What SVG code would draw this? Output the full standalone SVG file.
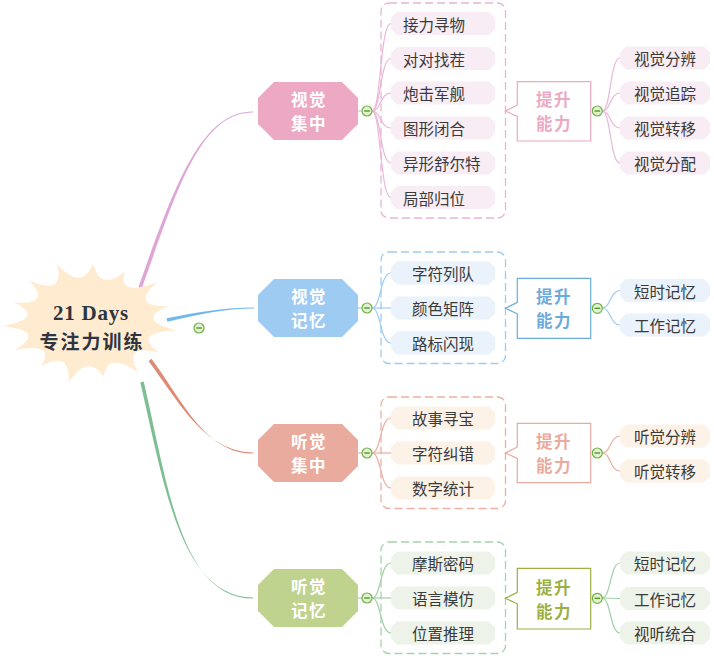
<svg xmlns="http://www.w3.org/2000/svg" xmlns:xlink="http://www.w3.org/1999/xlink" width="714" height="658" viewBox="0 0 714 658">
<style>
  .leaf{font-family:"Noto Sans CJK SC","Liberation Sans",sans-serif;font-size:15.5px;fill:#3a3a3a;dominant-baseline:central;}
  .main{font-family:"Noto Sans CJK SC","Liberation Sans",sans-serif;font-size:16.5px;font-weight:bold;fill:#fff;text-anchor:middle;dominant-baseline:central;letter-spacing:1.5px;}
  .call{font-family:"Noto Sans CJK SC","Liberation Sans",sans-serif;font-size:16.5px;font-weight:bold;text-anchor:middle;dominant-baseline:central;letter-spacing:1.5px;}
  .mid{text-anchor:middle;}
  .cont{fill:none;stroke-width:1.3;stroke-dasharray:8 4;}
  .callbox{fill:#fff;stroke-width:1.2;}
  .thin{fill:none;stroke-width:1.2;}
  .p1{fill:#F8EDF5;} .p2{fill:#EAF2FB;} .p3{fill:#FDF2E8;} .p4{fill:#EEF3E9;}
</style>
<defs>
  <polygon id="cb" points="6,0 98,0 104,6 104,17 98,23 6,23 0,17 0,6"/>
  <polygon id="rb" points="6,0 84,0 90,6 90,17 84,23 6,23 0,17 0,6"/>
  <polygon id="oct" points="16,0 84,0 100,16 100,42 84,58 16,58 0,42 0,16"/>
  <g id="minus">
    <circle cx="0" cy="0" r="5" fill="#E3F1D2" stroke="#6DB33F" stroke-width="1.2"/>
    <line x1="-2.8" y1="0" x2="2.8" y2="0" stroke="#4E8F2A" stroke-width="1.3"/>
  </g>
</defs>

<g id="connectors">
  <path d="M138.3,287.4 C173.3,189.4 200,111.4 253,111.4 L253,112.6 C200,112.6 176.7,190.6 141.7,288.6 Z" fill="#DDA6D6"/>
  <path d="M166.6,318.2 C200,311.5 225,307.4 254,307.4 L254,308.6 C225,308.6 200,314.5 167.4,321.8 Z" fill="#72B8EC"/>
  <path d="M148.6,361.3 C178.6,401.3 205,452.4 253,452.4 L253,453.6 C205,453.6 181.4,398.7 151.4,358.7 Z" fill="#E08A74"/>
  <path d="M140.3,382.4 C163.3,480.4 180,597.4 253,597.4 L253,598.6 C180,598.6 166.7,479.6 143.7,381.6 Z" fill="#7DBE92"/>
  <g class="thin" stroke="#EBB7D8">
    <path d="M358,111 L362,111"/>
    <path d="M372,111 C381,111 380,23.5 391,23.5"/>
    <path d="M372,111 C381,111 380,58.5 391,58.5"/>
    <path d="M372,111 C381,111 380,93 391,93"/>
    <path d="M372,111 C381,111 380,128 391,128"/>
    <path d="M372,111 C381,111 380,163 391,163"/>
    <path d="M372,111 C381,111 380,197.5 391,197.5"/>
    <path d="M602,111 C611,111 610,58 620,58"/>
    <path d="M602,111 C611,111 610,93 620,93"/>
    <path d="M602,111 C611,111 610,128 620,128"/>
    <path d="M602,111 C611,111 610,163 620,163"/>
  </g>
  <g class="thin" stroke="#9ECBF2">
    <path d="M358,308 L362,308"/>
    <path d="M372,308 C381,308 380,273 391,273"/>
    <path d="M372,308 L391,308"/>
    <path d="M372,308 C381,308 380,343 391,343"/>
    <path d="M602,308 C611,308 610,290.5 620,290.5"/>
    <path d="M602,308 C611,308 610,325 620,325"/>
  </g>
  <g class="thin" stroke="#EBAE9E">
    <path d="M358,453 L362,453"/>
    <path d="M372,453 C381,453 380,418 391,418"/>
    <path d="M372,453 L391,453"/>
    <path d="M372,453 C381,453 380,488 391,488"/>
    <path d="M602,453 C611,453 610,436 620,436"/>
    <path d="M602,453 C611,453 610,471 620,471"/>
  </g>
  <g class="thin" stroke="#9FCFA6">
    <path d="M358,598 L362,598"/>
    <path d="M372,598 C381,598 380,563 391,563"/>
    <path d="M372,598 L391,598"/>
    <path d="M372,598 C381,598 380,633 391,633"/>
    <path d="M602,598 C611,598 610,563 620,563"/>
    <path d="M602,598 L620,598.5"/>
    <path d="M602,598 C611,598 610,633 620,633"/>
  </g>
</g>

<g id="root">
  <path d="M177.1,330.6 Q131.4,332.6 158.7,352.2 Q121.6,343.5 138.2,372.4 Q106.5,350.7 103.8,377 Q88.5,353 68.7,382.1 Q70.7,349.9 41.2,366 Q56.3,341.9 14.6,350.2 Q47.7,330.6 2.2,326.3 Q46.4,317.7 13.9,302.5 Q52.7,305.6 29.3,280.6 Q65.4,296.3 57,264.5 Q82.3,291.5 92.9,263.2 Q100.6,291.9 124.7,271.8 Q117.1,297.6 157.4,282.1 Q128.9,307.5 168.6,306.1 Q133.9,319.8 177.1,330.6 Z" fill="#FEEBD0"/>
  <text text-anchor="middle" font-weight="bold" fill="#2E3440" dominant-baseline="central"><tspan x="91" y="313" font-family="'Liberation Serif','Noto Sans CJK SC',serif" font-size="21" letter-spacing="0.8">21 Days</tspan><tspan x="92" y="339.5" font-family="'Noto Sans CJK SC','Liberation Sans',sans-serif" font-size="19" letter-spacing="2">专注力训练</tspan></text>
  <use href="#minus" x="199" y="328"/>
</g>

<g id="b1-main">
  <use href="#oct" x="258" y="82" fill="#EDA8C3"/>
  <text class="main"><tspan x="309" y="99">视觉</tspan><tspan x="309" y="123">集中</tspan></text>
  <use href="#minus" x="367" y="111"/>
</g>
<g id="b1-group">
  <rect class="cont" x="381" y="3" width="124.5" height="215" rx="8" stroke="#E8B4D6"/>
  <g id="b1-c1"><use href="#cb" x="391" y="12" class="p1"/><text class="leaf" x="403" y="23.5">接力寻物</text></g>
  <g id="b1-c2"><use href="#cb" x="391" y="47" class="p1"/><text class="leaf" x="403" y="58.5">对对找茬</text></g>
  <g id="b1-c3"><use href="#cb" x="391" y="81.5" class="p1"/><text class="leaf" x="403" y="93">炮击军舰</text></g>
  <g id="b1-c4"><use href="#cb" x="391" y="116.5" class="p1"/><text class="leaf" x="403" y="128">图形闭合</text></g>
  <g id="b1-c5"><use href="#cb" x="391" y="151.5" class="p1"/><text class="leaf" x="403" y="163">异形舒尔特</text></g>
  <g id="b1-c6"><use href="#cb" x="391" y="186" class="p1"/><text class="leaf" x="403" y="197.5">局部归位</text></g>
</g>
<g id="b1-callout">
  <path class="callbox" d="M517.3,81.7 L590.7,81.7 L590.7,141 L517.3,141 L517.3,116.5 L505.5,111 L517.3,105 Z" stroke="#EDA8C3"/>
  <text class="call" fill="#EDA8C3"><tspan x="554" y="99">提升</tspan><tspan x="554" y="123">能力</tspan></text>
  <use href="#minus" x="597.3" y="111"/>
</g>
<g id="b1-right">
  <g id="b1-r1"><use href="#rb" x="620" y="46.5" class="p1"/><text class="leaf mid" x="665" y="58">视觉分辨</text></g>
  <g id="b1-r2"><use href="#rb" x="620" y="81.5" class="p1"/><text class="leaf mid" x="665" y="93">视觉追踪</text></g>
  <g id="b1-r3"><use href="#rb" x="620" y="116.5" class="p1"/><text class="leaf mid" x="665" y="128">视觉转移</text></g>
  <g id="b1-r4"><use href="#rb" x="620" y="151.5" class="p1"/><text class="leaf mid" x="665" y="163">视觉分配</text></g>
</g>

<g id="b2-main">
  <use href="#oct" x="258" y="279" fill="#9ECBF2"/>
  <text class="main"><tspan x="309" y="296">视觉</tspan><tspan x="309" y="320">记忆</tspan></text>
  <use href="#minus" x="367" y="308"/>
</g>
<g id="b2-group">
  <rect class="cont" x="381" y="252" width="124.5" height="111.5" rx="8" stroke="#9ECBF2"/>
  <g id="b2-c1"><use href="#cb" x="391" y="261.5" class="p2"/><text class="leaf mid" x="443" y="273">字符列队</text></g>
  <g id="b2-c2"><use href="#cb" x="391" y="296.5" class="p2"/><text class="leaf mid" x="443" y="308">颜色矩阵</text></g>
  <g id="b2-c3"><use href="#cb" x="391" y="331.5" class="p2"/><text class="leaf mid" x="443" y="343">路标闪现</text></g>
</g>
<g id="b2-callout">
  <path class="callbox" d="M517.3,278.3 L590.7,278.3 L590.7,338.3 L517.3,338.3 L517.3,313.8 L505.5,308.3 L517.3,302.3 Z" stroke="#6AAEDB"/>
  <text class="call" fill="#6CAADC"><tspan x="554" y="296.3">提升</tspan><tspan x="554" y="320.3">能力</tspan></text>
  <use href="#minus" x="597.3" y="308.3"/>
</g>
<g id="b2-right">
  <g id="b2-r1"><use href="#rb" x="620" y="279" class="p2"/><text class="leaf mid" x="665" y="290.5">短时记忆</text></g>
  <g id="b2-r2"><use href="#rb" x="620" y="313.5" class="p2"/><text class="leaf mid" x="665" y="325">工作记忆</text></g>
</g>

<g id="b3-main">
  <use href="#oct" x="258" y="424" fill="#E8AB9E"/>
  <text class="main"><tspan x="309" y="441">听觉</tspan><tspan x="309" y="465">集中</tspan></text>
  <use href="#minus" x="367" y="453"/>
</g>
<g id="b3-group">
  <rect class="cont" x="381" y="397" width="124.5" height="111.5" rx="8" stroke="#EBB0A2"/>
  <g id="b3-c1"><use href="#cb" x="391" y="406.5" class="p3"/><text class="leaf mid" x="443" y="418">故事寻宝</text></g>
  <g id="b3-c2"><use href="#cb" x="391" y="441.5" class="p3"/><text class="leaf mid" x="443" y="453">字符纠错</text></g>
  <g id="b3-c3"><use href="#cb" x="391" y="476.5" class="p3"/><text class="leaf mid" x="443" y="488">数字统计</text></g>
</g>
<g id="b3-callout">
  <path class="callbox" d="M517.3,423.3 L590.7,423.3 L590.7,482.7 L517.3,482.7 L517.3,458.5 L505.5,453 L517.3,447 Z" stroke="#E8AB9E"/>
  <text class="call" fill="#E8AB9E"><tspan x="554" y="441">提升</tspan><tspan x="554" y="465">能力</tspan></text>
  <use href="#minus" x="597.3" y="453"/>
</g>
<g id="b3-right">
  <g id="b3-r1"><use href="#rb" x="620" y="424.5" class="p3"/><text class="leaf mid" x="665" y="436">听觉分辨</text></g>
  <g id="b3-r2"><use href="#rb" x="620" y="459.5" class="p3"/><text class="leaf mid" x="665" y="471">听觉转移</text></g>
</g>

<g id="b4-main">
  <use href="#oct" x="258" y="569" fill="#BFD38E"/>
  <text class="main"><tspan x="309" y="586">听觉</tspan><tspan x="309" y="610">记忆</tspan></text>
  <use href="#minus" x="367" y="598"/>
</g>
<g id="b4-group">
  <rect class="cont" x="381" y="542" width="124.5" height="111.5" rx="8" stroke="#A8D2AE"/>
  <g id="b4-c1"><use href="#cb" x="391" y="551.5" class="p4"/><text class="leaf mid" x="443" y="563">摩斯密码</text></g>
  <g id="b4-c2"><use href="#cb" x="391" y="586.5" class="p4"/><text class="leaf mid" x="443" y="598">语言模仿</text></g>
  <g id="b4-c3"><use href="#cb" x="391" y="621.5" class="p4"/><text class="leaf mid" x="443" y="633">位置推理</text></g>
</g>
<g id="b4-callout">
  <path class="callbox" d="M517.3,568.3 L590.7,568.3 L590.7,629 L517.3,629 L517.3,603.8 L505.5,598.3 L517.3,592.3 Z" stroke="#9CB043"/>
  <text class="call" fill="#9CB043"><tspan x="554" y="586.5">提升</tspan><tspan x="554" y="610.5">能力</tspan></text>
  <use href="#minus" x="597.3" y="598.3"/>
</g>
<g id="b4-right">
  <g id="b4-r1"><use href="#rb" x="620" y="551.5" class="p4"/><text class="leaf mid" x="665" y="563">短时记忆</text></g>
  <g id="b4-r2"><use href="#rb" x="620" y="587" class="p4"/><text class="leaf mid" x="665" y="598.5">工作记忆</text></g>
  <g id="b4-r3"><use href="#rb" x="620" y="621.5" class="p4"/><text class="leaf mid" x="665" y="633">视听统合</text></g>
</g>
</svg>
